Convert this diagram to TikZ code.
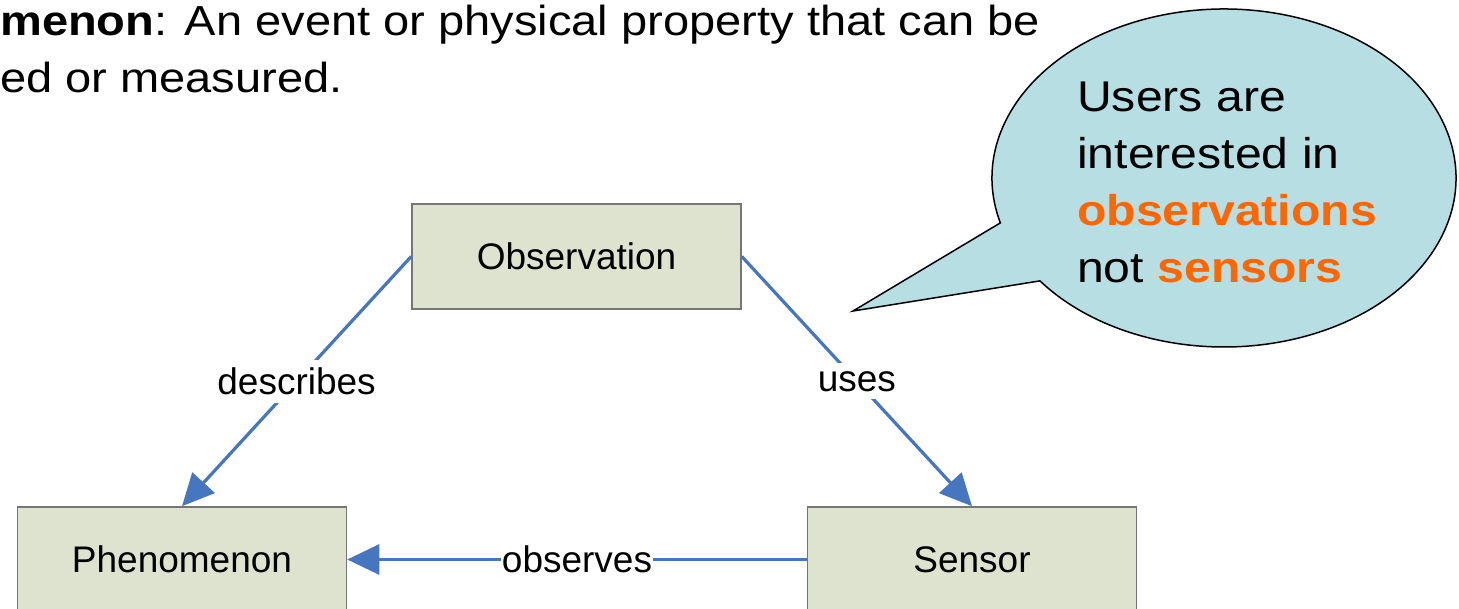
\documentclass[tikz,border=0pt]{standalone}
\usepackage{fontspec}
\setmainfont{Liberation Sans}
\newfontfamily\widefont[FakeStretch=1.12]{Liberation Sans}
\usetikzlibrary{arrows.meta}
\definecolor{boxfill}{HTML}{DDE3CF}
\definecolor{boxline}{HTML}{767676}
\definecolor{linkblue}{HTML}{4776C0}
\definecolor{bubble}{HTML}{B7DEE3}
\definecolor{accent}{HTML}{FF6600}
\begin{document}
\begin{tikzpicture}[x=1pt, y=-1pt,
  entity/.style={draw=boxline, line width=1.6pt, fill=boxfill,
    minimum width=329pt, minimum height=105pt, inner sep=0pt,
    font=\fontsize{37}{44}\selectfont},
  link/.style={draw=linkblue, line width=3.2pt,
    -{Triangle[length=32pt, width=30pt]}},
  linklabel/.style={fill=white, inner xsep=1pt, inner ysep=8pt,
    font=\fontsize{37}{44}\selectfont},
  slidetext/.style={inner sep=0pt, align=left,
    font={\fontsize{42}{57}\widefont}},
  bubbletext/.style={inner sep=0pt, align=left,
    font={\fontsize{43}{57}\widefont}},
]
\clip (0,0) rectangle (1459,608);
\fill[white] (0,0) rectangle (1459,608);

% definition text at the top
\node[slidetext, anchor=north west] (defn) at (0,5)
  {\textbf{menon}: An event or physical property that can be\\ed or measured.};

% speech bubble
\coordinate (tip) at (853,311);
\filldraw[fill=bubble, draw=black, line width=1.5pt, line join=miter]
  (1224,178) ++(164.6:232 and 169)
  arc[start angle=164.6, end angle=502.5, x radius=232, y radius=169]
  -- (tip) -- cycle;
\node[bubbletext, anchor=north west] (note) at (1077,82)
  {Users are\\interested in\\\textcolor{accent}{\textbf{observations}}\\not \textcolor{accent}{\textbf{sensors}}};

% the three entities
\node[entity] (obs) at (576.5,256.5) {Observation};
\node[entity] (phen) at (182,559.5) {Phenomenon};
\node[entity] (sens) at (972,559.5) {Sensor};

% relations
\draw[link] (obs.west) -- node[linklabel] (lbldesc) {describes} (phen.north);
\draw[link] (obs.east) -- node[linklabel] (lbluses) {uses} (sens.north);
\draw[link] (sens.west) -- node[linklabel] (lblobs) {observes} (phen.east);
\end{tikzpicture}
\end{document}
